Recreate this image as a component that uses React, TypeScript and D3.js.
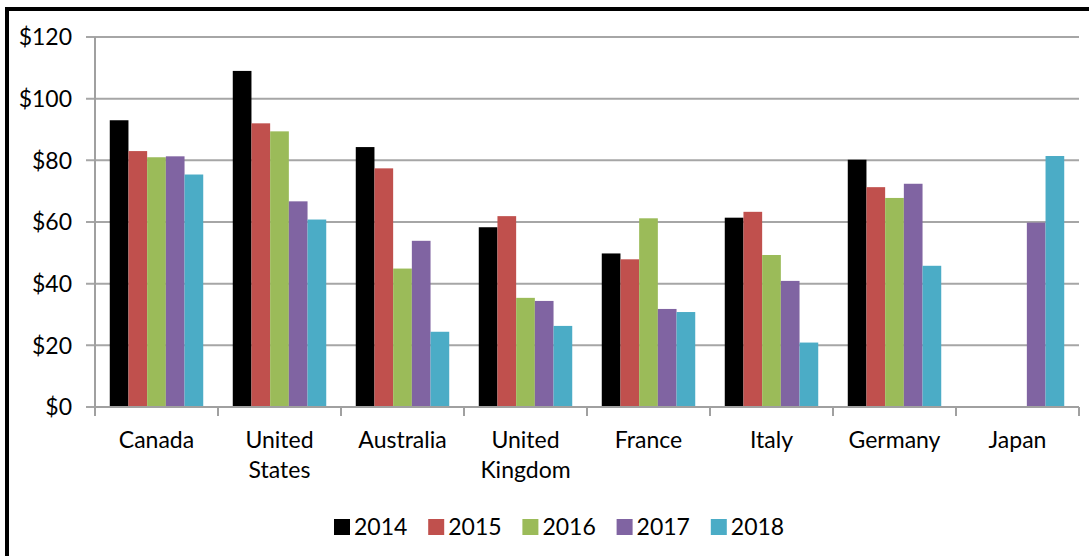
import React from 'react';
import { scaleBand, scaleLinear } from 'd3';

const countries = ['Canada', 'United States', 'Australia', 'United Kingdom', 'France', 'Italy', 'Germany', 'Japan'];
const years = ['2014', '2015', '2016', '2017', '2018'];
const colors = ['#000000', '#C0504D', '#9BBB59', '#8064A2', '#4BACC6'];

// one array per year, in country order (null = no bar)
const v2014 = [93, 109, 84.3, 58.3, 49.8, 61.4, 80.2, null];
const v2015 = [83, 92, 77.4, 61.9, 47.9, 63.3, 71.3, null];
const v2016 = [81, 89.4, 44.9, 35.4, 61.2, 49.3, 67.8, null];
const v2017 = [81.3, 66.7, 53.9, 34.4, 31.8, 40.9, 72.4, 59.8];
const v2018 = [75.4, 60.8, 24.4, 26.3, 30.8, 20.9, 45.8, 81.4];
const series = [v2014, v2015, v2016, v2017, v2018];

const yTicks = [0, 20, 40, 60, 80, 100, 120];

const App = () => {
    const width = 1089, height = 556;
    const left = 95, right = 1079, top = 37, bottom = 407;
    const font = 'Lato, "Open Sans", sans-serif';

    const x = scaleBand<string>().domain(countries).range([left, right]).padding(0);
    const xInner = scaleBand<string>().domain(years).range([0, x.bandwidth()]).paddingInner(0).paddingOuter(0.79);
    const y = scaleLinear().domain([0, 120]).range([bottom, top]);

    const legendStart = 334, legendStep = 94.2;

    return (
        <svg width={width} height={height} style={{ position: 'fixed', left: 0, top: 0, background: '#fff' }}>
            <rect x={0} y={0} width={width} height={height} fill='#fff' />
            {/* frame, only left and top edges visible */}
            <rect x={5} y={7} width={width - 5} height={4} fill='#000' />
            <rect x={5} y={7} width={4} height={height - 7} fill='#000' />

            {yTicks.map((t) => (
                <g key={t}>
                    <line x1={left - 9} x2={right} y1={y(t)} y2={y(t)} stroke='#a6a6a6' strokeWidth={2} />
                    <text x={72} y={y(t)} dy='0.36em' textAnchor='end' fontFamily={font} fontSize={23} fill='#000'>
                        {'$' + t}
                    </text>
                </g>
            ))}
            <line x1={left} x2={left} y1={top} y2={bottom} stroke='#a0a0a0' strokeWidth={2} />

            {countries.map((c, i) => (
                <g key={c}>
                    {series.map((s, j) => {
                        const v = s[i];
                        if (v == null) return null;
                        return (
                            <rect key={j}
                                x={(x(c) as number) + (xInner(years[j]) as number)}
                                y={y(v)}
                                width={xInner.bandwidth()}
                                height={y(0) - y(v)}
                                fill={colors[j]} />
                        );
                    })}
                </g>
            ))}

            {[...countries, null].map((c, i) => {
                const tx = left + i * x.step();
                return <line key={i} x1={tx} x2={tx} y1={bottom} y2={bottom + 9} stroke='#a0a0a0' strokeWidth={2} />;
            })}

            {countries.map((c) => {
                const cx = (x(c) as number) + x.bandwidth() / 2;
                const parts = c.split(' ');
                return (
                    <text key={c} x={cx} y={448} textAnchor='middle' fontFamily={font} fontSize={23} fill='#000'>
                        {parts.map((p, k) => (
                            <tspan key={k} x={cx} dy={k === 0 ? 0 : 30}>{p}</tspan>
                        ))}
                    </text>
                );
            })}

            {years.map((yr, j) => (
                <g key={yr} transform={`translate(${legendStart + j * legendStep},519)`}>
                    <rect x={0} y={0} width={16} height={16} fill={colors[j]} />
                    <text x={20} y={16} fontFamily={font} fontSize={23} fill='#000'>{yr}</text>
                </g>
            ))}

            <line x1={left} x2={right} y1={bottom} y2={bottom} stroke='#a0a0a0' strokeWidth={2} />
        </svg>
    );
};

export default App;
